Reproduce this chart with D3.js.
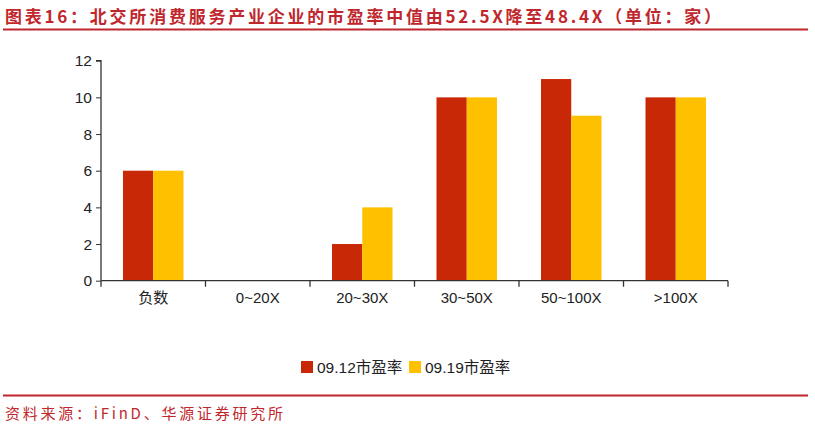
<!DOCTYPE html>
<html><head><meta charset="utf-8">
<script src="https://cdn.jsdelivr.net/npm/d3@7"></script>
<style>body{margin:0;background:#fff}svg{display:block}</style>
</head><body>
<svg id="c" width="815" height="428"></svg>
<script>
const categories = ["负数","0~20X","20~30X","30~50X","50~100X",">100X"];
const seriesNames = ["09.12市盈率","09.19市盈率"];
const s0912 = [6,0,2,10,11,10];
const s0919 = [6,0,4,10,9,10];
const yTicks = [0,2,4,6,8,10,12];
const colors = ["#C82806","#FFC000"];
const title = "图表16：北交所消费服务产业企业的市盈率中值由52.5X降至48.4X（单位：家）";
const source = "资料来源：iFinD、华源证券研究所";

const svg = d3.select("#c");
const red = "#C0272D";
svg.append("text").attr("x",5).attr("y",23).attr("fill",red)
  .attr("font-family","'Noto Sans CJK SC'").attr("font-weight","bold").attr("font-size",17)
  .attr("textLength",716).attr("lengthAdjust","spacing")
  .text(title);
svg.append("line").attr("x1",3).attr("x2",808).attr("y1",29.5).attr("y2",29.5).attr("stroke",red).attr("stroke-width",2);
svg.append("line").attr("x1",3).attr("x2",808).attr("y1",395.5).attr("y2",395.5).attr("stroke",red).attr("stroke-width",2);
svg.append("text").attr("x",5).attr("y",419).attr("fill",red)
  .attr("font-family","'Noto Sans CJK SC'").attr("font-size",15)
  .attr("textLength",278).attr("lengthAdjust","spacing")
  .text(source);

const x0 = 101, x1 = 728, yTop = 60.7, yBot = 280.7;
const x = d3.scaleBand().domain(categories).range([x0,x1]).paddingInner(0).paddingOuter(0);
const inner = d3.scaleBand().domain(seriesNames).range([22, x.bandwidth()-22]);
const y = d3.scaleLinear().domain([0,12]).range([yBot,yTop]);

const g = svg.append("g");
const data = categories.map((c,i)=>({c, vals:[s0912[i], s0919[i]]}));
g.selectAll("g.grp").data(data).join("g").attr("class","grp")
  .attr("transform",d=>`translate(${x(d.c)},0)`)
  .selectAll("rect").data(d=>d.vals.map((v,j)=>({v,j}))).join("rect")
  .attr("x",d=>inner(seriesNames[d.j])).attr("width",inner.bandwidth())
  .attr("y",d=>y(d.v)).attr("height",d=>y(0)-y(d.v)).attr("fill",d=>colors[d.j]);

const yAxis = d3.axisLeft(y).tickValues(yTicks).tickSize(5).tickPadding(4).tickFormat(d3.format("d"));
const ya = svg.append("g").attr("transform",`translate(${x0},0)`).call(yAxis);
ya.select(".domain").attr("stroke","#333").attr("stroke-width",1.3).attr("d",`M-5,${yTop}H0V${yBot}`);
ya.selectAll(".tick line").attr("stroke","#333");
ya.selectAll("text").attr("font-family","'Liberation Sans',Arial").attr("font-size",15.5).attr("fill","#222");

const xAxis = d3.axisBottom(x).tickSize(0).tickPadding(12);
const xa = svg.append("g").attr("transform",`translate(0,${yBot})`).call(xAxis);
xa.select(".domain").attr("stroke","#333").attr("stroke-width",1.3).attr("d",`M${x0},0H${x1}`);
xa.selectAll("text").attr("font-family","'Liberation Sans','Noto Sans CJK SC',Arial").attr("font-size",15).attr("fill","#222");
const bounds = categories.map(c=>x(c)).concat([x1]);
xa.selectAll("line.b").data(bounds).join("line").attr("class","b")
  .attr("x1",d=>d).attr("x2",d=>d).attr("y1",0).attr("y2",6).attr("stroke","#333").attr("stroke-width",1.3);

const leg = svg.append("g");
const legX = [301, 409];
seriesNames.forEach((n,i)=>{
  leg.append("rect").attr("x",legX[i]).attr("y",361).attr("width",12).attr("height",12).attr("fill",colors[i]);
  leg.append("text").attr("x",legX[i]+16).attr("y",373).attr("font-family","'Liberation Sans','Noto Sans CJK SC',Arial")
    .attr("font-size",15.5).attr("fill","#222").text(n);
});
</script>
</body></html>
